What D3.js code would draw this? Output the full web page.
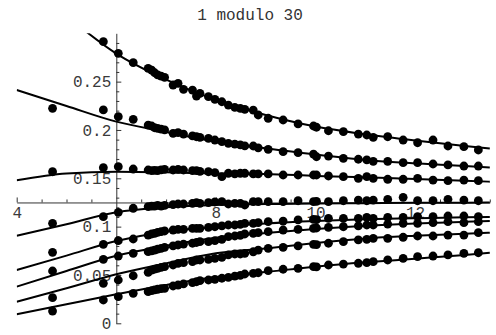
<!DOCTYPE html>
<html>
<head>
<meta charset="utf-8">
<script src="https://cdn.jsdelivr.net/npm/d3@7"></script>
<style>
  html, body { margin: 0; padding: 0; background: #fff; }
  svg { display: block; }
  .axis text { font-family: "Liberation Mono", "DejaVu Sans Mono", monospace; font-size: 16px; fill: #3a3a3a; }
  .axis path, .axis line { stroke: #333; stroke-width: 1; }
</style>
</head>
<body>
<svg id="chart" width="496" height="335"></svg>
<script>
// Sample positions of the points (shared by all eight families)
const pointX = [4.72, 5.74, 6.04, 6.34,
  6.64, 6.71, 6.77, 6.83, 6.90, 6.97, 7.14, 7.24, 7.35, 7.53, 7.61, 7.68, 7.85, 7.98, 8.12, 8.25, 8.38, 8.49, 8.58,
  8.75, 8.85, 9.05, 9.35, 9.65, 9.96, 10.02, 10.26, 10.56, 10.86, 11.03, 11.16, 11.45, 11.76, 12.05, 12.36, 12.66, 12.98, 13.27];

const points1 = [null, 0.2913, 0.2793, 0.2696,
  0.2638, 0.2620, 0.2592, 0.2569, 0.2558, 0.2545, 0.2465, 0.2483, 0.2420, 0.2413, 0.2351, 0.2379, 0.2344, 0.2317, 0.2292, 0.2258, 0.2234, 0.2224, 0.2214,
  0.2206, 0.2155, 0.2121, 0.2103, 0.2062, 0.2041, 0.2028, 0.1992, 0.1982, 0.1958, 0.1948, 0.1924, 0.1930, 0.1896, 0.1868, 0.1896, 0.1834, 0.1827, 0.1793];
const points2 = [0.2224, 0.2207, 0.2137, 0.2110,
  0.2051, 0.2041, 0.2023, 0.2017, 0.2008, 0.2000, 0.1965, 0.1972, 0.1958, 0.1938, 0.1930, 0.1924, 0.1914, 0.1896, 0.1879, 0.1862, 0.1853, 0.1845, 0.1835,
  0.1834, 0.1815, 0.1800, 0.1775, 0.1765, 0.1751, 0.1723, 0.1730, 0.1707, 0.1697, 0.1690, 0.1676, 0.1676, 0.1662, 0.1662, 0.1648, 0.1638, 0.1627, 0.1627];
const points3 = [0.1568, 0.1610, 0.1620, 0.1596,
  0.1586, 0.1579, 0.1583, 0.1579, 0.1588, 0.1593, 0.1586, 0.1593, 0.1586, 0.1579, 0.1579, 0.1572, 0.1568, 0.1558, 0.1517, 0.1552, 0.1545, 0.1552, 0.1552,
  0.1545, 0.1545, 0.1545, 0.1534, 0.1534, 0.1534, 0.1534, 0.1524, 0.1517, 0.1500, 0.1517, 0.1500, 0.1490, 0.1490, 0.1500, 0.1482, 0.1475, 0.1482, 0.1475];
const points4 = [0.1034, 0.1103, 0.1148, 0.1190,
  0.1206, 0.1213, 0.1213, 0.1220, 0.1213, 0.1220, 0.1227, 0.1234, 0.1234, 0.1241, 0.1248, 0.1241, 0.1248, 0.1255, 0.1258, 0.1234, 0.1241, 0.1241, 0.1224,
  0.1258, 0.1258, 0.1258, 0.1258, 0.1268, 0.1258, 0.1262, 0.1258, 0.1268, 0.1275, 0.1268, 0.1275, 0.1283, 0.1303, 0.1268, 0.1268, 0.1283, 0.1275, 0.1268];
const points5 = [0.0734, 0.0817, 0.0855, 0.0872,
  0.0913, 0.0924, 0.0931, 0.0940, 0.0948, 0.0955, 0.0965, 0.0972, 0.0972, 0.0983, 0.0983, 0.0983, 0.0993, 0.0999, 0.1007, 0.1017, 0.1017, 0.1024, 0.1034,
  0.1034, 0.1041, 0.1051, 0.1058, 0.1069, 0.1076, 0.1072, 0.1086, 0.1086, 0.1086, 0.1096, 0.1086, 0.1096, 0.1096, 0.1103, 0.1103, 0.1110, 0.1110, 0.1103];
const points6 = [0.0541, 0.0662, 0.0696, 0.0724,
  0.0741, 0.0750, 0.0758, 0.0767, 0.0776, 0.0786, 0.0800, 0.0810, 0.0820, 0.0828, 0.0836, 0.0844, 0.0844, 0.0855, 0.0869, 0.0896, 0.0903, 0.0910, 0.0924,
  0.0930, 0.0937, 0.0948, 0.0965, 0.0972, 0.0983, 0.0986, 0.0993, 0.0999, 0.1007, 0.1017, 0.1017, 0.1027, 0.1034, 0.1034, 0.1041, 0.1051, 0.1041, 0.1051];
const points7 = [0.0265, 0.0414, 0.0448, 0.0492,
  0.0527, 0.0551, 0.0560, 0.0569, 0.0579, 0.0586, 0.0603, 0.0620, 0.0627, 0.0637, 0.0655, 0.0655, 0.0662, 0.0672, 0.0683, 0.0707, 0.0717, 0.0717, 0.0724,
  0.0740, 0.0758, 0.0776, 0.0786, 0.0800, 0.0817, 0.0814, 0.0828, 0.0844, 0.0862, 0.0869, 0.0879, 0.0879, 0.0890, 0.0903, 0.0903, 0.0913, 0.0913, 0.0937];
const points8 = [0.0127, 0.0241, 0.0275, 0.0310,
  0.0327, 0.0337, 0.0345, 0.0352, 0.0358, 0.0362, 0.0386, 0.0396, 0.0407, 0.0420, 0.0430, 0.0441, 0.0448, 0.0455, 0.0466, 0.0476, 0.0489, 0.0495, 0.0510,
  0.0516, 0.0523, 0.0544, 0.0559, 0.0569, 0.0586, 0.0583, 0.0603, 0.0613, 0.0621, 0.0627, 0.0637, 0.0655, 0.0672, 0.0689, 0.0696, 0.0707, 0.0724, 0.0730];

// Fitted curves, sampled at these abscissae
const fitX = [4, 5, 6, 7, 8, 9, 10, 11, 12, 13, 13.5];
const fit1 = [0.362, 0.318, 0.279, 0.252, 0.231, 0.2155, 0.2035, 0.1955, 0.1890, 0.1833, 0.1808];
const fit2 = [0.2413, 0.2248, 0.2086, 0.1980, 0.1879, 0.1810, 0.1745, 0.1690, 0.1655, 0.1628, 0.1612];
const fit3 = [0.1480, 0.1550, 0.1568, 0.1562, 0.1550, 0.1545, 0.1525, 0.1510, 0.1493, 0.1475, 0.1465];
const fit4 = [0.0906, 0.1025, 0.1148, 0.1200, 0.1225, 0.1233, 0.1240, 0.1243, 0.1246, 0.1248, 0.1249];
const fit5 = [0.0551, 0.0700, 0.0851, 0.0948, 0.0995, 0.1032, 0.1058, 0.1076, 0.1086, 0.1096, 0.1100];
const fit6 = [0.0379, 0.0541, 0.0698, 0.0803, 0.0886, 0.0935, 0.0975, 0.1008, 0.1032, 0.1050, 0.1058];
const fit7 = [0.0223, 0.0362, 0.0507, 0.0620, 0.0724, 0.0775, 0.0830, 0.0878, 0.0906, 0.0927, 0.0937];
const fit8 = [0.0093, 0.0197, 0.0300, 0.0396, 0.0478, 0.0531, 0.0586, 0.0631, 0.0668, 0.0707, 0.0730];

// Axis ticks and labels
const xTickValues = [4, 8, 10, 12];
const xTickLabels = ["4", "8", "10", "12"];
const xMinorTicks = [4.5, 5, 5.5, 6.5, 7, 7.5, 8.5, 9, 9.5, 10.5, 11, 11.5, 12.5, 13, 13.5];
const yTickValues = [0, 0.05, 0.1, 0.15, 0.2, 0.25];
const yTickLabels = ["0", "0.05", "0.1", "0.15", "0.2", "0.25"];
const yMinorTicks = [0.01, 0.02, 0.03, 0.04, 0.06, 0.07, 0.08, 0.09, 0.11, 0.12, 0.13, 0.14,
  0.16, 0.17, 0.18, 0.19, 0.21, 0.22, 0.23, 0.24, 0.26, 0.27, 0.28, 0.29];
const titleText = "1 modulo 30";

const pointSeries = [points1, points2, points3, points4, points5, points6, points7, points8];
const fitSeries = [fit1, fit2, fit3, fit4, fit5, fit6, fit7, fit8];

const svg = d3.select("#chart");
const x = d3.scaleLinear().domain([4, 13.5]).range([16.7, 489.8]);
const y = d3.scaleLinear().domain([0, 0.3]).range([323.3, 33.3]);
const originX = 6, originY = 0.125;

svg.append("rect").attr("width", 496).attr("height", 335).attr("fill", "#fff");

// Title
svg.append("text")
  .attr("x", 250).attr("y", 20)
  .attr("text-anchor", "middle")
  .style("font-family", '"Liberation Mono", "DejaVu Sans Mono", monospace')
  .style("font-size", "16px")
  .style("fill", "#333")
  .text(titleText);

// Vertical axis through x = 6, ticks pointing right
const yAxis = d3.axisLeft(y)
  .tickValues(yTickValues)
  .tickFormat((d, i) => yTickLabels[i])
  .tickSizeInner(-5).tickSizeOuter(0).tickPadding(5);
svg.append("g").attr("class", "axis")
  .attr("transform", `translate(${x(originX)},0)`)
  .call(yAxis);
const yMinor = d3.axisLeft(y).tickValues(yMinorTicks).tickFormat("")
  .tickSizeInner(-3).tickSizeOuter(0);
svg.append("g").attr("class", "axis")
  .attr("transform", `translate(${x(originX)},0)`)
  .call(yMinor)
  .call(g => g.select(".domain").remove());

// Horizontal axis through y = 0.125, ticks pointing up
const xAxis = d3.axisBottom(x)
  .tickValues(xTickValues)
  .tickFormat((d, i) => xTickLabels[i])
  .tickSizeInner(-5).tickSizeOuter(0).tickPadding(4);
svg.append("g").attr("class", "axis")
  .attr("transform", `translate(0,${y(originY)})`)
  .call(xAxis);
const xMinor = d3.axisBottom(x).tickValues(xMinorTicks).tickFormat("")
  .tickSizeInner(-3).tickSizeOuter(0);
svg.append("g").attr("class", "axis")
  .attr("transform", `translate(0,${y(originY)})`)
  .call(xMinor)
  .call(g => g.select(".domain").remove());

// Fitted curves, clipped to the plot range
svg.append("clipPath").attr("id", "plotClip")
  .append("rect")
  .attr("x", x(4)).attr("y", y(0.3))
  .attr("width", x(13.5) - x(4) + 2).attr("height", y(0) - y(0.3));

const line = d3.line()
  .x(d => x(d[0]))
  .y(d => y(d[1]))
  .curve(d3.curveMonotoneX);

svg.append("g").attr("clip-path", "url(#plotClip)")
  .selectAll("path")
  .data(fitSeries)
  .join("path")
  .attr("d", vals => line(fitX.map((fx, i) => [fx, vals[i]])))
  .attr("fill", "none")
  .attr("stroke", "#000")
  .attr("stroke-width", 2);

// Data points
const dots = svg.append("g");
pointSeries.forEach(vals => {
  dots.selectAll(null)
    .data(pointX.map((px, i) => [px, vals[i]]).filter(d => d[1] !== null))
    .join("circle")
    .attr("cx", d => x(d[0]))
    .attr("cy", d => y(d[1]))
    .attr("r", 4.4)
    .attr("fill", "#000");
});
</script>
</body>
</html>
